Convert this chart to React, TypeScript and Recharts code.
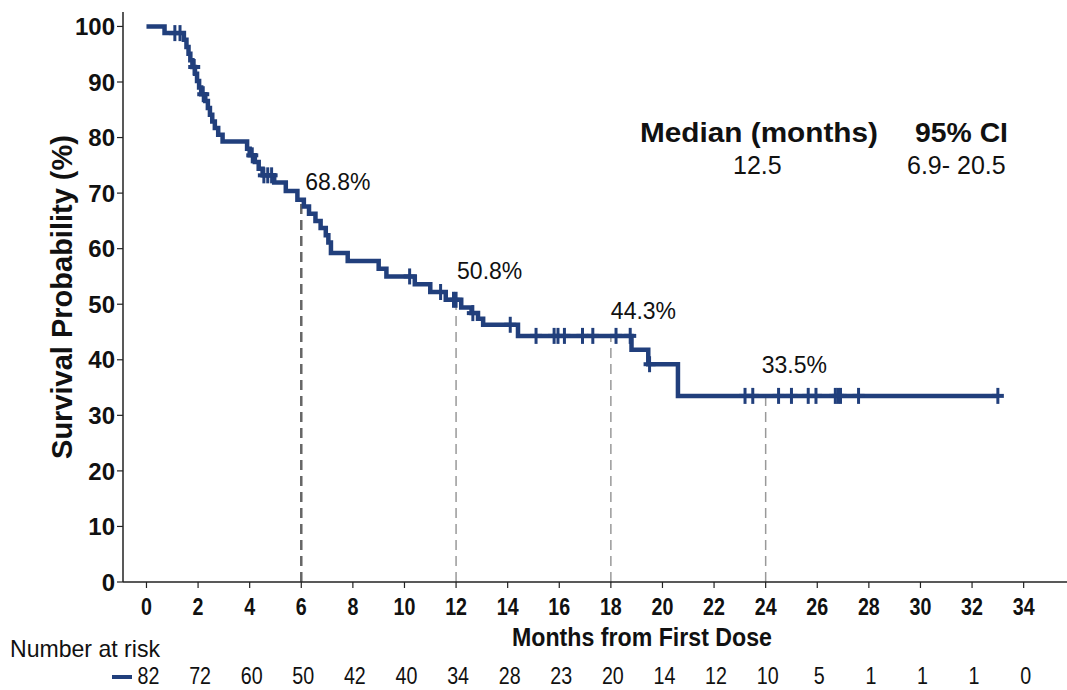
import React from "react";
import {
  ComposedChart,
  Line,
  Scatter,
  XAxis,
  YAxis,
  ReferenceLine,
} from "recharts";

// Kaplan-Meier steps
const eventMonths = [
  0, 0.7, 1.45, 1.55, 1.63, 1.7, 1.78, 1.88, 1.96, 2.04, 2.12, 2.28, 2.38,
  2.46, 2.55, 2.65, 2.78, 2.95, 3.9, 4.0, 4.2, 4.35, 4.5, 4.95, 5.4, 5.85,
  6.1, 6.3, 6.55, 6.75, 6.95, 7.05, 7.15, 7.8, 9.0, 9.3, 10.4, 11.0, 11.6,
  12.2, 12.6, 12.85, 13.05, 14.4, 18.8, 19.45, 20.6, 33.0,
];
const eventSurvival = [
  100, 98.8, 97.6, 96.3, 95.1, 93.9, 92.7, 91.5, 90.2, 89.0, 87.8, 86.6, 85.3,
  84.1, 82.9, 81.7, 80.5, 79.3, 78.0, 76.8, 75.6, 74.4, 73.2, 71.9, 70.4, 68.8,
  67.6, 66.3, 65.0, 63.7, 62.4, 61.1, 59.2, 57.8, 56.4, 55.0, 53.6, 52.2, 50.8,
  49.4, 48.4, 47.4, 46.3, 44.3, 41.8, 39.2, 33.5, 33.5,
];
const censorMonths = [
  1.1, 1.3, 1.85, 2.2, 4.1, 4.55, 4.7, 4.85, 10.2, 11.4, 11.9, 12.0, 12.65,
  14.1, 15.1, 15.8, 15.95, 16.2, 16.9, 17.3, 18.2, 18.75, 19.5, 23.2, 23.5,
  24.5, 25.0, 25.65, 25.95, 26.7, 26.8, 26.9, 27.6, 33.0,
];
const landmarkMonths = [6, 12, 18, 24];
const landmarkSurvival = [68.8, 50.8, 44.3, 33.5];
const monthTicks = [0, 2, 4, 6, 8, 10, 12, 14, 16, 18, 20, 22, 24, 26, 28, 30, 32, 34];
const atRisk = [82, 72, 60, 50, 42, 40, 34, 28, 23, 20, 14, 12, 10, 5, 1, 1, 1, 0];
const survivalTicks = [0, 10, 20, 30, 40, 50, 60, 70, 80, 90, 100];
const medianMonths = "12.5";
const medianCI = "6.9- 20.5";

const NAVY = "#213f7c";
const INK = "#111";
const SANS = "'Liberation Sans', Arial, sans-serif";
const SQUEEZE = 0.82; // narrow look of the bottom texts
// pixel nudges for the landmark labels
const labelNudge = [
  [4, -10],
  [1, -21],
  [0, -17],
  [-4, -23],
];

const survivalAt = (t: number) => {
  let s = eventSurvival[0];
  eventMonths.forEach((m, i) => {
    if (m <= t) s = eventSurvival[i];
  });
  return s;
};

const curveRows = eventMonths.map((t, i) => ({ t, s: eventSurvival[i] }));
const censorRows = censorMonths.map((t) => ({ t, s: survivalAt(t) }));
const landmarkRows = landmarkMonths.map((t, i) => ({
  t,
  s: landmarkSurvival[i],
  text: `${landmarkSurvival[i]}%`,
  dx: labelNudge[i][0],
  dy: labelNudge[i][1],
}));

const CensorMark = (p: any) => (
  <g>
    <line x1={p.cx} x2={p.cx} y1={p.cy - 8} y2={p.cy + 8} stroke={NAVY} strokeWidth={3} />
    <line x1={p.cx - 6} x2={p.cx + 6} y1={p.cy} y2={p.cy} stroke={NAVY} strokeWidth={4} />
  </g>
);

const LandmarkLabel = (p: any) => (
  <text
    x={p.cx + p.payload.dx}
    y={p.cy + p.payload.dy}
    fontFamily={SANS}
    fontSize={23}
    fill={INK}
  >
    {p.payload.text}
  </text>
);

const MonthTick = (p: any) => (
  <text
    transform={`translate(${p.x} ${p.y + 25}) scale(${SQUEEZE} 1)`}
    textAnchor="middle"
    fontFamily={SANS}
    fontWeight="bold"
    fontSize={24}
    fill={INK}
  >
    {p.payload.value}
  </text>
);

const RiskTick = (p: any) => (
  <text
    transform={`translate(${p.x + 2} ${p.y + 26}) scale(${SQUEEZE} 1)`}
    textAnchor="middle"
    fontFamily={SANS}
    fontSize={24}
    fill={INK}
  >
    {atRisk[monthTicks.indexOf(p.payload.value)]}
  </text>
);

const SurvTick = (p: any) => (
  <text
    x={p.x}
    y={p.y}
    dy="0.36em"
    textAnchor="end"
    fontFamily={SANS}
    fontWeight="bold"
    fontSize={24}
    fill={INK}
  >
    {p.payload.value}
  </text>
);

export default function App() {
  return (
    <div
      style={{
        position: "absolute",
        left: 0,
        top: 0,
        width: 1067,
        height: 690,
        background: "#fff",
      }}
    >
      <ComposedChart
        width={1067}
        height={690}
        margin={{ top: 12, right: 0, bottom: 0, left: 0 }}
      >
        <XAxis
          type="number"
          dataKey="t"
          domain={[-0.91, 35.68]}
          ticks={monthTicks}
          interval={0}
          allowDataOverflow
          height={68}
          tickSize={6}
          tick={MonthTick}
          axisLine={{ stroke: "#222", strokeWidth: 1.5 }}
          tickLine={{ stroke: "#222", strokeWidth: 1.2 }}
        />
        <XAxis
          xAxisId="risk"
          type="number"
          dataKey="t"
          domain={[-0.91, 35.68]}
          ticks={monthTicks}
          interval={0}
          allowDataOverflow
          height={40}
          axisLine={false}
          tickLine={false}
          tick={RiskTick}
        />
        <YAxis
          type="number"
          domain={[0, 102.6]}
          ticks={survivalTicks}
          interval={0}
          allowDataOverflow
          width={123}
          tickSize={6}
          tick={SurvTick}
          axisLine={{ stroke: "#222", strokeWidth: 1.5 }}
          tickLine={{ stroke: "#222", strokeWidth: 1.2 }}
        />
        {landmarkMonths.map((m, i) => (
          <ReferenceLine
            key={m}
            segment={[
              { x: m, y: 0 },
              { x: m, y: landmarkSurvival[i] },
            ]}
            stroke={i === 0 ? "#666" : "#999"}
            strokeWidth={i === 0 ? 2.5 : 1.5}
            strokeDasharray="10 6"
          />
        ))}
        <Line
          data={curveRows}
          dataKey="s"
          type="stepAfter"
          stroke={NAVY}
          strokeWidth={4.5}
          dot={false}
          isAnimationActive={false}
        />
        <Scatter
          data={censorRows}
          dataKey="s"
          shape={CensorMark}
          isAnimationActive={false}
        />
        <Scatter
          data={landmarkRows}
          dataKey="s"
          shape={LandmarkLabel}
          isAnimationActive={false}
        />
      </ComposedChart>
      <svg
        width={1067}
        height={690}
        style={{ position: "absolute", left: 0, top: 0, pointerEvents: "none" }}
      >
        <text
          transform="translate(72 297) rotate(-90)"
          textAnchor="middle"
          fontFamily={SANS}
          fontWeight="bold"
          fontSize={29}
          fill={INK}
        >
          Survival Probability (%)
        </text>
        <text
          x={640}
          y={142}
          fontFamily={SANS}
          fontWeight="bold"
          fontSize={28}
          textLength={238}
          lengthAdjust="spacingAndGlyphs"
          fill={INK}
        >
          Median (months)
        </text>
        <text
          x={915}
          y={142}
          fontFamily={SANS}
          fontWeight="bold"
          fontSize={28}
          textLength={93}
          lengthAdjust="spacingAndGlyphs"
          fill={INK}
        >
          95% CI
        </text>
        <text x={733} y={174} fontFamily={SANS} fontSize={25} fill={INK}>
          {medianMonths}
        </text>
        <text x={907} y={174} fontFamily={SANS} fontSize={25} fill={INK}>
          {medianCI}
        </text>
        <text
          x={642}
          y={646}
          textAnchor="middle"
          fontFamily={SANS}
          fontWeight="bold"
          fontSize={26}
          textLength={260}
          lengthAdjust="spacingAndGlyphs"
          fill={INK}
        >
          Months from First Dose
        </text>
        <text
          x={10}
          y={657}
          fontFamily={SANS}
          fontSize={24}
          textLength={150}
          lengthAdjust="spacingAndGlyphs"
          fill={INK}
        >
          Number at risk
        </text>
        <line x1={112} x2={132} y1={677} y2={677} stroke={NAVY} strokeWidth={4} />
      </svg>
    </div>
  );
}
